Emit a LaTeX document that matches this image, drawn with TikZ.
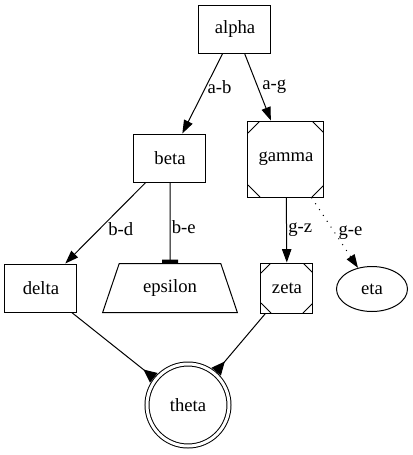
\documentclass[tikz,border=0pt]{standalone}
\usepackage{fontspec}
\setmainfont{Liberation Serif}
\usetikzlibrary{arrows.meta}
\usetikzlibrary{shapes.geometric}
\tikzset{box/.style = {draw, minimum width=54pt, minimum height=36pt, inner sep=0pt}}
\tikzset{msq/.style = {draw, inner sep=0pt, path picture={
		\draw [line width=0.75pt] ([yshift=-#1]path picture bounding box.north west) -- ([xshift=#1]path picture bounding box.north west);
		\draw [line width=0.75pt] ([yshift=-#1]path picture bounding box.north east) -- ([xshift=-#1]path picture bounding box.north east);
		\draw [line width=0.75pt] ([yshift=#1]path picture bounding box.south west) -- ([xshift=#1]path picture bounding box.south west);
		\draw [line width=0.75pt] ([yshift=#1]path picture bounding box.south east) -- ([xshift=-#1]path picture bounding box.south east);
	}}, msq/.default=9pt}
\tikzset{norm/.style = {-{Triangle[length=10pt, width=7pt]}}}
\tikzset{crow/.style = {-{Triangle[reversed, length=10pt, width=9pt]}}}
\tikzset{tee/.style = {-{Rectangle[length=2.5pt, width=12pt]}}}
\tikzset{gdot/.style = {dash pattern=on 0.75pt off 4.5pt}}
\tikzset{lbl/.style = {right, inner sep=1pt}}
\begin{document}
\begin{tikzpicture}[x=0.75pt, y=-0.75pt, line width=0.75pt, font=\fontsize{14pt}{16pt}\selectfont]
		\useasboundingbox (0, 0) rectangle (413, 455);
		\node [box] (alpha) at (235, 29) {alpha};
		\node [box] (beta) at (170, 158) {beta};
		\node [msq, minimum size=57pt] (gamma) at (286, 159) {gamma};
		\node [box] (delta) at (41, 288) {delta};
		\node [draw, trapezium, trapezium stretches=true, trapezium angle=62.5, minimum width=101.25pt, minimum height=36.75pt, inner sep=0pt] (epsilon) at (170, 288) {epsilon};
		\node [msq=7.5pt, minimum width=39pt, minimum height=37.5pt] (zeta) at (287, 288) {zeta};
		\node [draw, ellipse, minimum width=53.25pt, minimum height=33.75pt, inner sep=0pt] (eta) at (372, 289) {eta};
		\node [draw, circle, double, double distance=2.25pt, minimum size=61.5pt, outer sep=2pt] (theta) at (188, 405) {theta};
		\draw [norm] (alpha) to node [lbl, pos=0.42] {a-b} (beta);
		\draw [norm] (alpha) to node [lbl, pos=0.5, xshift=2pt] {a-g} (gamma);
		\draw [norm] (beta) to node [lbl, pos=0.57, xshift=5pt] {b-d} (delta);
		\draw [tee] (beta) to node [lbl, pos=0.56] {b-e} (epsilon);
		\draw [norm] (gamma) to node [lbl, pos=0.5] {g-z} (zeta);
		\draw [norm, gdot] (gamma) to node [lbl, pos=0.5, xshift=1.5pt] {g-e} (eta);
		\draw [crow] (delta) to (theta);
		\draw [crow] (zeta) to (theta);
\end{tikzpicture}
\end{document}
